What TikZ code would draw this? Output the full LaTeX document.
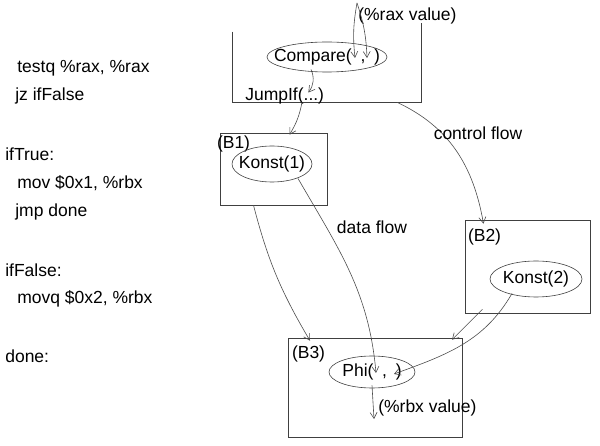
\documentclass[tikz,border=0pt]{standalone}
\usepackage{fontspec}
\setmainfont{Liberation Sans}
\usetikzlibrary{arrows.meta}
\tikzset{
  blk/.style={draw=black!75, inner sep=0pt},
  op/.style={inner sep=0pt},
  ring/.style={draw=black!75},
  flow/.style={draw=black!70, -{Straight Barb[length=6pt,width=7pt]}},
  code/.style={anchor=west, inner sep=0pt}
}
\begin{document}
\begin{tikzpicture}[x=1pt,y=-1pt, font=\fontsize{17.5}{20}\selectfont, line width=0.6pt]
 \useasboundingbox (0,0) rectangle (600,446);
 % assembly listing
 \node[code] (l1) at (17,68) {testq \%rax, \%rax};
 \node[code] (l2) at (15,96) {jz ifFalse};
 \node[code] (l3) at (5,154) {ifTrue:};
 \node[code] (l4) at (17,183) {mov \$0x1, \%rbx};
 \node[code] (l5) at (15,212) {jmp done};
 \node[code] (l6) at (5,270) {ifFalse:};
 \node[code] (l7) at (17,299) {movq \$0x2, \%rbx};
 \node[code] (l8) at (5,356) {done:};
 % entry block (open on top)
 \node[minimum width=188pt, minimum height=70pt] (top) at (327,67) {};
 \draw[black!75] (top.north west) -- (top.south west) -- (top.south east) -- ([yshift=9]top.north east);
 \node[op] (cmp) at (327,57) {Compare(\enspace,\enspace)};
 \draw[ring] (cmp.center) ellipse [x radius=60pt, y radius=15pt];
 \node[code] (jmpif) at (245,96) {JumpIf(...)};
 \node[code] (rax) at (358,16) {(\%rax value)};
 \coordinate (raxin) at (357,3);
 \draw[flow] (raxin) to[bend right=8] ([xshift=28,yshift=-1]cmp.center);
 \draw[flow] (raxin) to[bend left=8] ([xshift=40,yshift=-1]cmp.center);
 \draw[flow] ([xshift=-16,yshift=-4]cmp.south) to[bend left=30] ([xshift=-16,yshift=-5]jmpif.north east);
 % blocks
 \node[blk, minimum width=107pt, minimum height=72pt] (b1) at (273.5,169) {};
 \node[anchor=north west, inner sep=1pt] (b1lbl) at ([xshift=-4,yshift=-2]b1.north west) {(B1)};
 \node[op] (k1) at (272,164) {Konst(1)};
 \draw[ring] (k1.center) ellipse [x radius=40pt, y radius=18pt];
 \node[blk, minimum width=125pt, minimum height=93pt] (b2) at (527.5,266.5) {};
 \node[anchor=north west, inner sep=1pt] (b2lbl) at ([xshift=2,yshift=-8]b2.north west) {(B2)};
 \node[op] (k2) at (536,279) {Konst(2)};
 \draw[ring] (k2.center) ellipse [x radius=46pt, y radius=18pt];
 \node[blk, minimum width=174pt, minimum height=99pt] (b3) at (375,387.5) {};
 \node[anchor=north west, inner sep=1pt] (b3lbl) at ([xshift=3,yshift=-7]b3.north west) {(B3)};
 \node[op] (phi) at (372,372) {Phi(\enspace,\enspace)};
 \draw[ring] (phi.center) ellipse [x radius=43pt, y radius=16pt];
 \coordinate (rbxout) at (374,419);
 \node[code] (rbx) at (378,408) {(\%rbx value)};
 % control flow
 \draw[flow] ([xshift=-25]top.south) to[bend left=10] ([xshift=16,yshift=-2]b1.north);
 \draw[flow] ([xshift=70]top.south) to[out=-25,in=100] ([xshift=-44,yshift=-4]b2.north);
 \node (cf) at (478,133) {control flow};
 \draw[flow] ([xshift=-20]b1.south) to[bend right=8] ([xshift=-65,yshift=-3]b3.north);
 \draw[flow] ([xshift=-45,yshift=4]b2.south) -- ([xshift=77,yshift=-2]b3.north);
 % data flow
 \draw[flow] ([xshift=26,yshift=-6]k1.south) to[out=-60,in=95] ([xshift=4,yshift=-1]phi.center);
 \node (df) at (372,227) {data flow};
 \draw[flow] ([xshift=-24,yshift=-6]k2.south) to[out=-120,in=20] ([xshift=22,yshift=-2]phi.center);
 \draw[flow] ([yshift=-5]phi.south) -- (rbxout);
\end{tikzpicture}
\end{document}
